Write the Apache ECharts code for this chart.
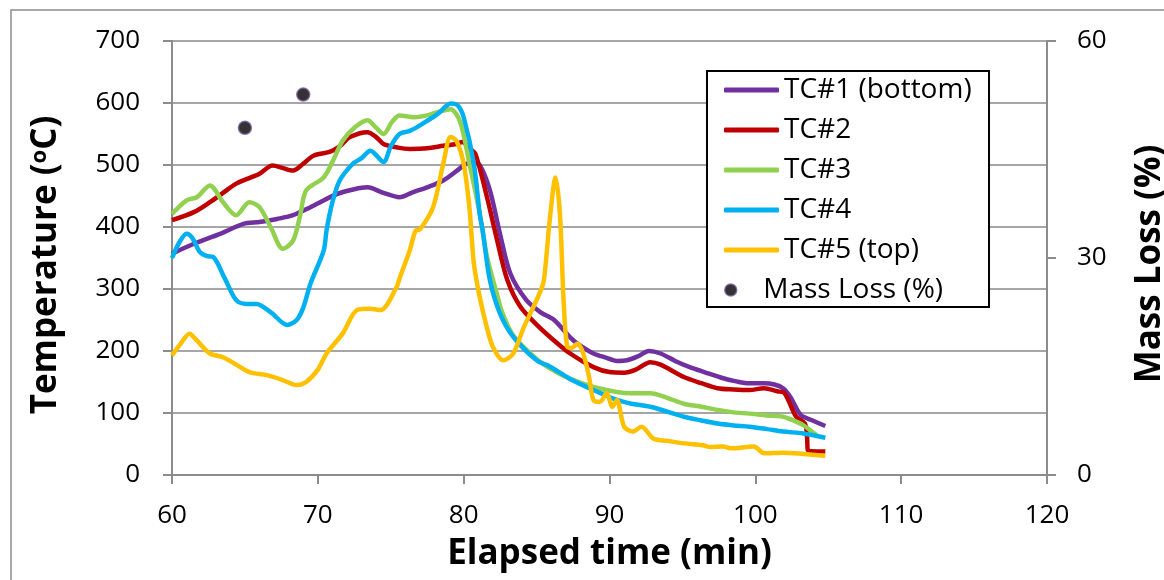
<!DOCTYPE html>
<html>
<head>
<meta charset="utf-8">
<script src="https://cdn.jsdelivr.net/npm/echarts/dist/echarts.min.js"></script>
<style>
  html, body { margin: 0; padding: 0; background: #fff; }
  #chart { width: 1164px; height: 580px; }
</style>
</head>
<body>
<div id="chart"></div>
<script>
// thermocouple readings, time (min) / temperature (C)
const tc1Time = [60, 61.5, 63.3, 64.9, 66, 67.2, 68.3, 69.5, 71.3, 72.5, 73.4, 74.5, 75.6, 76.5, 77.5, 78.6, 79.5, 80.2, 80.7, 81.1, 81.8, 82.5, 83.2, 84.3, 85.3, 86.2, 87.3, 87.8, 88.9, 89.8, 90.5, 91.2, 92, 92.7, 93.5, 94.5, 95.5, 96.5, 97.8, 98.7, 99.6, 100.6, 101.3, 101.9, 102.4, 103.1, 103.8, 104.8];
const tc1Temp = [357, 373, 389, 405, 408, 413, 419, 432, 453, 461, 464, 455, 448, 456, 464, 475, 490, 502, 503, 500, 459, 388, 325, 282, 262, 250, 222, 212, 196, 189, 184, 185, 192, 200, 196, 184, 174, 166, 156, 151, 148, 148, 146, 140, 126, 97, 89, 79];

const tc2Time = [60, 61.5, 62.6, 63.5, 64.4, 65.2, 66, 66.9, 67.6, 68.3, 69, 69.7, 70.8, 71.5, 72.2, 73.4, 74, 74.5, 75.5, 76.3, 77.5, 78.6, 79.5, 79.9, 80.4, 80.8, 81.6, 82.3, 83, 83.9, 85.2, 85.9, 87.3, 88.9, 90, 91, 91.8, 92.8, 93.5, 95.1, 96.3, 97.4, 98.5, 99.6, 100.6, 101.5, 102, 102.8, 103.4, 103.55, 103.6, 104.2, 104.8];
const tc2Temp = [411, 424, 440, 455, 470, 478, 486, 499, 495, 491, 502, 515, 521, 530, 545, 553, 545, 534, 528, 526, 527, 531, 534, 537, 527, 518, 448, 378, 314, 271, 238, 223, 196, 174, 166, 165, 170, 182, 178, 158, 148, 140, 138, 137, 140, 135, 132, 94, 83, 60, 40, 38, 38];

const tc3Time = [60, 61, 61.7, 62.6, 63.5, 64.4, 65.3, 66, 66.8, 67.6, 68.3, 68.8, 69.2, 70.4, 71, 71.7, 72.5, 73.4, 74, 74.5, 75.1, 75.6, 76.6, 77.5, 78.3, 79.1, 79.75, 80.4, 81.1, 81.6, 82.3, 82.6, 83.4, 85, 85.9, 87.3, 88.9, 90.5, 91.5, 92.8, 94, 95.1, 96.3, 97.4, 98.5, 99.6, 100.8, 101.9, 102.6, 103.3, 104.2];
const tc3Temp = [421, 443, 448, 467, 440, 419, 440, 432, 398, 365, 378, 420, 459, 480, 505, 539, 560, 572, 560, 550, 570, 580, 577, 580, 586, 590, 570, 502, 422, 352, 290, 265, 225, 187, 172, 155, 142, 134, 132, 132, 124, 115, 110, 105, 101, 99, 96, 94, 88, 80, 64];

const tc4Time = [60, 60.5, 61, 61.4, 61.9, 62.4, 62.8, 63.6, 64.4, 65.1, 65.8, 66.8, 67.9, 68.55, 69, 69.5, 70.4, 70.6, 71, 71.5, 72.4, 73, 73.6, 74.5, 75, 75.6, 76.3, 77, 78.2, 78.8, 79.1, 79.6, 80, 80.7, 81.1, 81.3, 81.8, 82.5, 83.4, 85, 85.9, 87.3, 88.9, 90.5, 91.5, 92.8, 95.1, 96.3, 97.4, 98.5, 99.6, 100.8, 101.9, 103.3, 104.8];
const tc4Temp = [350, 375, 389, 382, 360, 353, 352, 318, 282, 276, 276, 262, 242, 250, 270, 309, 362, 395, 440, 475, 502, 511, 523, 505, 530, 550, 555, 564, 582, 595, 599, 596, 577, 502, 421, 395, 314, 260, 223, 185, 175, 155, 137, 121, 115, 110, 94, 88, 83, 80, 78, 74, 70, 67, 60];

const tc5Time = [60, 60.6, 61.2, 61.7, 62.6, 63.5, 64.4, 65.3, 66.5, 67.5, 68.55, 69.2, 70, 70.6, 71.7, 72.7, 73.6, 74.3, 75.4, 75.6, 76.3, 76.7, 77, 77.9, 78.6, 79.1, 79.5, 80, 80.4, 80.7, 81.1, 81.6, 82, 82.7, 83.4, 84.1, 84.6, 85.2, 85.5, 85.9, 86.3, 86.6, 86.85, 87.1, 87.4, 87.8, 88.2, 88.6, 88.9, 89.35, 89.8, 90.2, 90.5, 91, 91.6, 92.2, 93, 94, 95.1, 96.4, 96.9, 97.8, 98.3, 99.9, 100.6, 101.9, 103.3, 104.8];
const tc5Temp = [193, 212, 228, 217, 196, 190, 178, 166, 161, 154, 145, 150, 170, 196, 228, 266, 268, 266, 303, 317, 362, 394, 396, 432, 502, 545, 539, 502, 430, 341, 287, 237, 207, 185, 196, 237, 262, 293, 314, 411, 480, 421, 282, 207, 205, 212, 196, 158, 121, 118, 132, 110, 121, 78, 70, 78, 59, 55, 51, 48, 45, 46, 43, 46, 35, 36, 34, 31];

// mass loss (%) on right axis
const massTime = [65, 69];
const massLoss = [48, 52.6];

const seriesNames = ['TC#1 (bottom)', 'TC#2', 'TC#3', 'TC#4', 'TC#5 (top)'];
const seriesColors = ['#7030a0', '#c00000', '#92d050', '#00b0f0', '#ffc000'];
const times = [tc1Time, tc2Time, tc3Time, tc4Time, tc5Time];
const temps = [tc1Temp, tc2Temp, tc3Temp, tc4Temp, tc5Temp];

const FONT = 'Open Sans';
const pair = (xs, ys) => xs.map((x, i) => [x, ys[i]]);

const chart = echarts.init(document.getElementById('chart'));

// later series drawn on top, like the original
const lineSeries = seriesNames.map((name, i) => ({
  name: name,
  type: 'line',
  data: pair(times[i], temps[i]),
  symbol: 'none',
  showSymbol: false,
  smooth: 0.3,
  lineStyle: { color: seriesColors[i], width: 4.5 },
  itemStyle: { color: seriesColors[i] },
  z: 2 + i
}));

const option = {
  backgroundColor: '#fff',
  animation: false,
  textStyle: { fontFamily: FONT },
  grid: { left: 172, right: 117, top: 41, bottom: 105, outerBoundsMode: 'none' },
  graphic: [
    {
      type: 'rect',
      shape: { x: 11, y: 10, width: 1200, height: 620 },
      style: { fill: 'none', stroke: '#8c8c8c', lineWidth: 1.5 },
      z: 0, silent: true
    },
    {
      type: 'rect',
      shape: { x: 707, y: 71, width: 282, height: 236 },
      style: { fill: '#fff', stroke: '#000', lineWidth: 2 },
      z: 3, silent: true
    }
  ],
  legend: [
    {
      data: seriesNames.map(n => ({ name: n, icon: 'roundRect' })),
      orient: 'vertical',
      left: 724, top: 70, padding: 0,
      itemWidth: 55, itemHeight: 5, itemGap: 0,
      textStyle: { fontSize: 28, lineHeight: 40, color: '#000', fontFamily: FONT },
      z: 10
    },
    {
      data: [{ name: 'Mass Loss (%)', icon: 'circle' }],
      orient: 'vertical',
      left: 724, top: 270, padding: 0,
      itemWidth: 55, itemHeight: 12, itemGap: 0,
      itemStyle: { color: '#000', borderColor: '#7a5a9e', borderWidth: 1.5 },
      textStyle: { fontSize: 28, lineHeight: 40, color: '#000', fontFamily: FONT },
      z: 10
    }
  ],
  xAxis: {
    type: 'value',
    min: 60, max: 120, interval: 10,
    name: 'Elapsed time (min)',
    nameLocation: 'middle',
    nameGap: 62,
    nameTextStyle: { fontSize: 35, fontWeight: 'bold', color: '#000', fontFamily: FONT },
    axisLine: { onZero: false, lineStyle: { color: '#8c8c8c', width: 2 } },
    axisTick: { show: true, inside: false, length: 9, lineStyle: { color: '#8c8c8c', width: 2 } },
    axisLabel: { fontSize: 26, color: '#000', margin: 28, fontFamily: FONT },
    splitLine: { show: false }
  },
  yAxis: [
    {
      type: 'value',
      min: 0, max: 700, interval: 100,
      name: 'Temperature ({sup|o}C)',
      nameLocation: 'middle',
      nameGap: 108,
      nameTextStyle: {
        fontSize: 35, fontWeight: 'bold', color: '#000', fontFamily: FONT,
        padding: [0, 14, 0, 0],
        rich: { sup: { fontSize: 22, fontWeight: 'bold', fontFamily: FONT, verticalAlign: 'top', padding: [0, 0, 13, 0] } }
      },
      axisLine: { show: true, lineStyle: { color: '#8c8c8c', width: 2 } },
      axisTick: { show: true, length: 9, lineStyle: { color: '#8c8c8c', width: 2 } },
      axisLabel: { fontSize: 26, color: '#000', margin: 32, fontFamily: FONT },
      splitLine: { show: true, lineStyle: { color: '#a6a6a6', width: 2 } }
    },
    {
      type: 'value',
      min: 0, max: 60, interval: 30,
      name: 'Mass Loss (%)',
      nameLocation: 'middle',
      nameGap: 86,
      nameTextStyle: { fontSize: 35, fontWeight: 'bold', color: '#000', fontFamily: FONT, padding: [0, 12, 0, 0] },
      axisLine: { show: true, lineStyle: { color: '#8c8c8c', width: 2 } },
      axisTick: { show: true, length: 9, lineStyle: { color: '#8c8c8c', width: 2 } },
      axisLabel: { fontSize: 26, color: '#000', margin: 30, fontFamily: FONT },
      splitLine: { show: false }
    }
  ],
  series: lineSeries.concat([{
    name: 'Mass Loss (%)',
    type: 'scatter',
    yAxisIndex: 1,
    data: pair(massTime, massLoss),
    symbol: 'circle',
    symbolSize: 13,
    itemStyle: { color: '#000', borderColor: '#7a5a9e', borderWidth: 1.5 },
    z: 10
  }])
};

chart.setOption(option);
window.addEventListener('resize', chart.resize);
</script>
</body>
</html>
